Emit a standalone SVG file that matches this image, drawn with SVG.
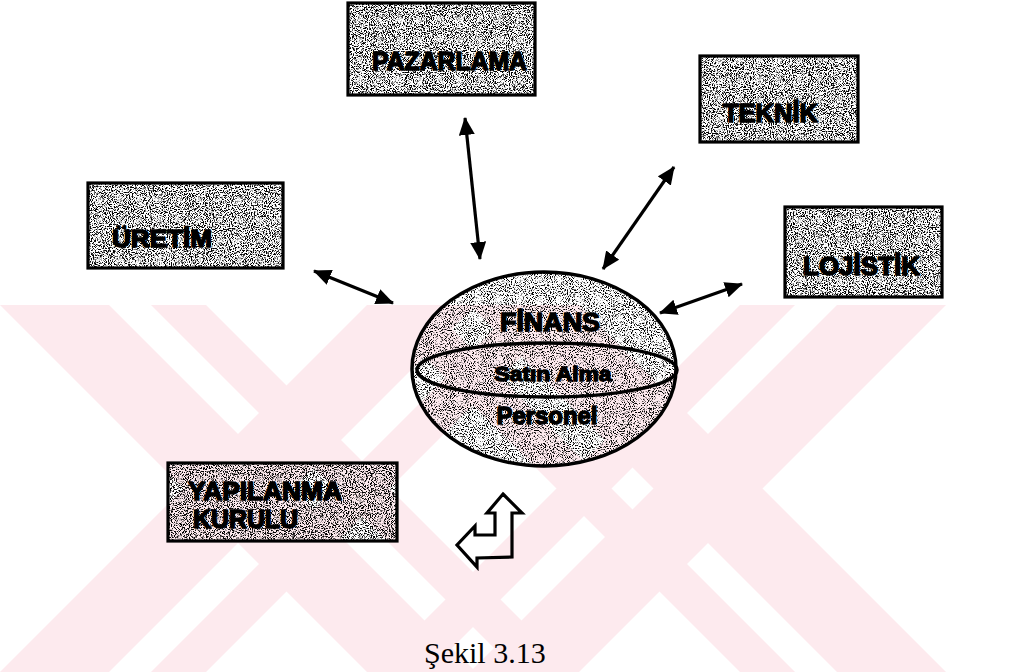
<svg xmlns="http://www.w3.org/2000/svg" width="1009" height="672" viewBox="0 0 1009 672">
  <defs>
    <style>
      .wm { fill: #fdeaee; }
      .grain { fill: #000; filter: url(#grain); }
      .grain-lt { fill: #000; filter: url(#grainLight); }
      .frame { fill: none; stroke: #000; stroke-width: 3.2; }
      .ring { fill: none; stroke: #000; stroke-width: 3.5; }
      .lbl { font-family: "Liberation Sans", Arial, sans-serif; font-weight: bold; fill: #000; stroke: #000; stroke-width: 1.4; stroke-linejoin: round; }
      .link { fill: none; stroke: #000; stroke-width: 3.2; marker-start: url(#head); marker-end: url(#head); }
      .caption { font-family: "Liberation Serif", "Times New Roman", serif; font-size: 30px; fill: #000; }
    </style>
    <!-- stippled halftone fill: thresholded noise clipped to the shape -->
    <filter id="grain" x="0" y="0" width="1" height="1" color-interpolation-filters="sRGB">
      <feTurbulence type="fractalNoise" baseFrequency="0.95" numOctaves="2" seed="4"/>
      <feColorMatrix type="matrix" values="0 0 0 0 0  0 0 0 0 0  0 0 0 0 0  -7 0 0 0 3.65"/>
      <feComposite in2="SourceAlpha" operator="in"/>
    </filter>
    <filter id="grainLight" x="0" y="0" width="1" height="1" color-interpolation-filters="sRGB">
      <feTurbulence type="fractalNoise" baseFrequency="0.95" numOctaves="2" seed="9"/>
      <feColorMatrix type="matrix" values="0 0 0 0 0  0 0 0 0 0  0 0 0 0 0  -7 0 0 0 3.4"/>
      <feComposite in2="SourceAlpha" operator="in"/>
    </filter>
    <marker id="head" viewBox="0 0 18 16" refX="17" refY="8" markerWidth="18" markerHeight="16" markerUnits="userSpaceOnUse" orient="auto-start-reverse">
      <path d="M0,0 L18,8 L0,16 z" fill="#000"/>
    </marker>
  </defs>

  <rect width="1009" height="672" fill="#fff"/>

  <!-- background emblem: crossing diagonal bands -->
  <g id="emblem" class="wm">
    <polygon points="0,305 109,305 476,672 367,672"/>
    <polygon points="151,305 206,305 573,672 518,672"/>
    <polygon points="837,305 946,305 579,672 470,672"/>
    <polygon points="740,305 795,305 428,672 373,672"/>
    <polygon points="0,672 109,672 476,305 367,305"/>
    <polygon points="151,672 206,672 573,305 518,305"/>
    <polygon points="837,672 946,672 579,305 470,305"/>
    <polygon points="740,672 795,672 428,305 373,305"/>
  </g>

  <g id="connectors">
    <line class="link" x1="465" y1="118" x2="480" y2="259"/>
    <line class="link" x1="674" y1="167" x2="603" y2="269"/>
    <line class="link" x1="314" y1="271" x2="393" y2="303"/>
    <line class="link" x1="742" y1="284" x2="660" y2="313"/>
  </g>

  <g id="pazarlama">
    <rect class="grain" x="348" y="3" width="187" height="92"/>
    <rect class="frame" x="348" y="3" width="187" height="92"/>
    <text class="lbl" x="372" y="70" font-size="25" textLength="155" lengthAdjust="spacingAndGlyphs">PAZARLAMA</text>
  </g>

  <g id="teknik">
    <rect class="grain" x="700" y="56" width="158" height="86"/>
    <rect class="frame" x="700" y="56" width="158" height="86"/>
    <text class="lbl" x="723" y="122" font-size="25" textLength="95" lengthAdjust="spacingAndGlyphs">TEKNİK</text>
  </g>

  <g id="uretim">
    <rect class="grain" x="88" y="183" width="195" height="85"/>
    <rect class="frame" x="88" y="183" width="195" height="85"/>
    <text class="lbl" x="112" y="247" font-size="24" textLength="100" lengthAdjust="spacingAndGlyphs">ÜRETİM</text>
  </g>

  <g id="lojistik">
    <rect class="grain" x="785" y="207" width="157" height="90"/>
    <rect class="frame" x="785" y="207" width="157" height="90"/>
    <text class="lbl" x="803" y="275" font-size="25" textLength="117" lengthAdjust="spacingAndGlyphs">LOJİSTİK</text>
  </g>

  <g id="finans">
    <ellipse class="grain-lt" cx="544" cy="369" rx="132" ry="97"/>
    <ellipse class="ring" cx="544" cy="369" rx="132" ry="97"/>
    <ellipse class="ring" cx="547" cy="370" rx="130" ry="27"/>
    <text class="lbl" x="550" y="331" font-size="26" text-anchor="middle" textLength="100" lengthAdjust="spacingAndGlyphs">FİNANS</text>
    <text class="lbl" x="553" y="381" font-size="21" text-anchor="middle" textLength="117" lengthAdjust="spacingAndGlyphs">Satın Alma</text>
    <text class="lbl" x="547" y="424" font-size="24" text-anchor="middle" textLength="101" lengthAdjust="spacingAndGlyphs">Personel</text>
  </g>

  <g id="yapilanma-kurulu">
    <rect class="grain" x="168" y="463" width="229" height="78"/>
    <rect class="frame" x="168" y="463" width="229" height="78"/>
    <text class="lbl" x="188" y="500" font-size="25" textLength="154" lengthAdjust="spacingAndGlyphs">YAPILANMA</text>
    <text class="lbl" x="193" y="528" font-size="25" textLength="105" lengthAdjust="spacingAndGlyphs">KURULU</text>
  </g>

  <g id="return-arrow">
    <polygon points="503,494 522,513 512,513 512,557 477,558 477,567 457,545 475,526 475,535 495,535 495,513 487,513" fill="none" stroke="#000" stroke-width="3.2" stroke-linejoin="miter"/>
  </g>

  <text class="caption" x="424" y="663">Şekil 3.13</text>
</svg>
